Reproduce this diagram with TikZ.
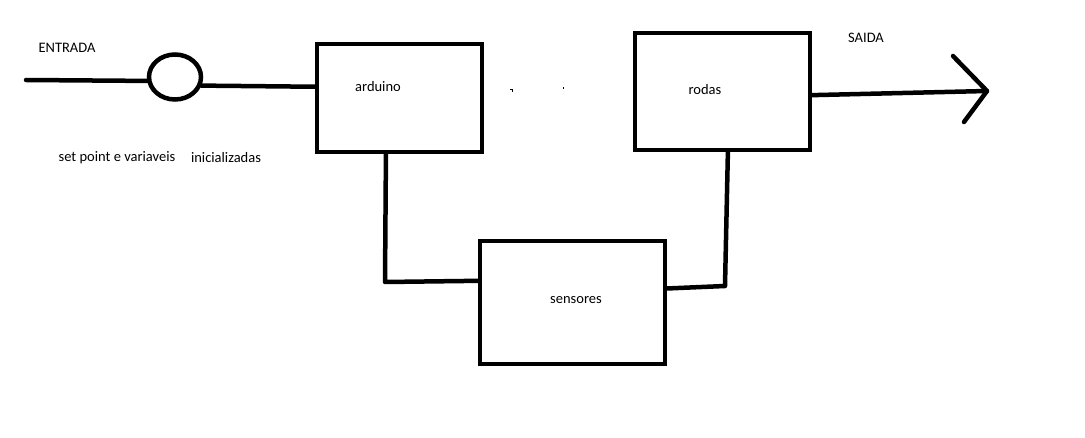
\documentclass[tikz,border=0pt]{standalone}
\usepackage{fontspec}
\setmainfont{Carlito}
\usetikzlibrary{calc,shapes.geometric}
\begin{document}
\begin{tikzpicture}[x=1pt,y=-1pt,
  blk/.style={draw,line width=4.5pt,minimum width=#1,inner sep=0pt},
  wire/.style={line width=4.5pt,line cap=round,line join=round},
  lbl/.style={font=\fontsize{14.5pt}{17pt}\selectfont,inner sep=0pt,text=black}]
\fill[white] (0,0) rectangle (1085,438);
\useasboundingbox (0,0) rectangle (1085,438);
% blocks
\node[blk=165pt,minimum height=108pt] (arduino) at (399.5,98) {};
\node[blk=175pt,minimum height=117pt] (rodas) at (722.5,91.5) {};
\node[blk=185pt,minimum height=123pt] (sensores) at (572.5,302.5) {};
\node[draw,ellipse,line width=4.5pt,minimum width=52pt,minimum height=45pt,inner sep=0pt] (sum) at (175,77) {};
% labels
\node[lbl] (tarduino) at (378,87) {arduino};
\node[lbl] (trodas) at (705,90) {rodas};
\node[lbl] (tsens) at (576,300) {sensores};
\node[lbl] (tin) at (67,48) {ENTRADA};
\node[lbl] (tout) at (866,38) {SAIDA};
\node[lbl] (tsp) at (117,158) {set point e variaveis};
\node[lbl] (tini) at (226,158) {inicializadas};
% free ends
\coordinate (inA) at (26,80);
\coordinate (outB) at (987,91);
\coordinate (headA) at (953,56);
\coordinate (headB) at (964,122);
\coordinate (c1) at (385,282);
\coordinate (c2) at (725,286);
% connectors
\draw[wire] (inA) -- (sum.188);
\draw[wire] (sum.-18) -- ($(arduino.north west)!0.4!(arduino.south west)$);
\draw[wire] ($(arduino.south west)!0.42!(arduino.south east)$) -- (c1) -- ($(sensores.north west)!0.33!(sensores.south west)$);
\draw[wire] ($(sensores.north east)!0.39!(sensores.south east)$) -- (c2) -- ($(rodas.south west)!0.53!(rodas.south east)$);
\draw[wire] ($(rodas.north east)!0.53!(rodas.south east)$) -- (outB);
\draw[wire] (headA) -- (outB) -- (headB);
% stray marks
\fill (510,89) rectangle (512.5,90);
\fill (511.5,89) rectangle (512.5,92);
\fill (562.5,87) rectangle (563.5,89.5);
\end{tikzpicture}
\end{document}
